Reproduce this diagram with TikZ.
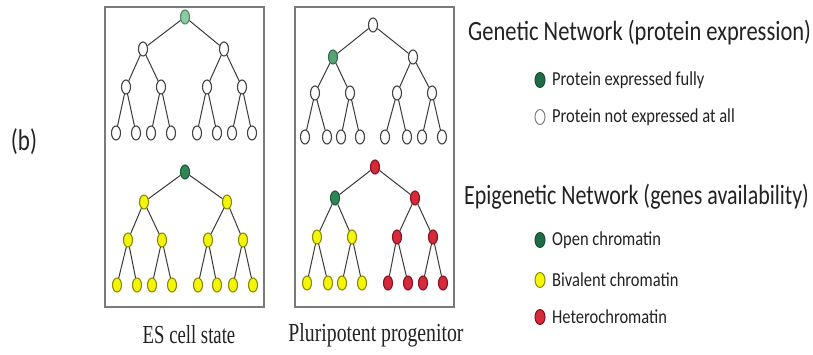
\documentclass[tikz,border=0pt]{standalone}
\usepackage{fontspec}
\setmainfont{Carlito}
\newfontfamily\labserif{Liberation Serif}
\usetikzlibrary{shapes.geometric}
\definecolor{edgec}{HTML}{3A3A3A}
\definecolor{framec}{HTML}{7A7A7A}
\definecolor{txt}{HTML}{222222}
\definecolor{fw}{HTML}{FFFFFF}\definecolor{dw}{HTML}{404040}
\definecolor{fgl}{HTML}{8CC9A4}\definecolor{dgl}{HTML}{4A8A64}
\definecolor{fgm}{HTML}{5AA276}\definecolor{dgm}{HTML}{2F6E4A}
\definecolor{fg}{HTML}{2E8555}\definecolor{dg}{HTML}{1D5A38}
\definecolor{fy}{HTML}{F5F50A}\definecolor{dy}{HTML}{8A8A00}
\definecolor{fr}{HTML}{D42A3A}\definecolor{dr}{HTML}{8A1020}
\definecolor{fG}{HTML}{1E6B45}\definecolor{dG}{HTML}{16502F}
\begin{document}
\begin{tikzpicture}[x=1pt,y=-1pt,
  nd/.style={ellipse, minimum width=9pt, minimum height=14pt, inner sep=0pt, line width=1.1pt},
  dot/.style={ellipse, minimum width=10pt, minimum height=15pt, inner sep=0pt, line width=1pt},
  edge/.style={draw=edgec, line width=1pt},
  frame/.style={draw=framec, line width=1.5pt},
  head/.style={anchor=west, inner sep=0pt, font=\fontsize{22.3}{22}\selectfont, text=txt},
  item/.style={anchor=west, inner sep=0pt, font=\fontsize{16.5}{16.5}\selectfont, text=txt},
  lab/.style={inner sep=0pt, font=\labserif\fontsize{26}{26}\selectfont, text=txt}]
\useasboundingbox[fill=white] (0,0) rectangle (813,355);

% frames
\node[frame, minimum width=159pt, minimum height=300pt, inner sep=0pt] (boxA) at (184.5,157) {};
\node[frame, minimum width=159pt, minimum height=300pt, inner sep=0pt] (boxB) at (374.5,157) {};

% tree A (top left)
\foreach \n/\x/\y/\c in {r/185/17/gl, a/143/49/w, b/224/49/w, c/126/87/w, d/161/87/w, e/207/87/w, f/242/87/w,
  1/116/133/w, 2/136/133/w, 3/151/133/w, 4/171/133/w, 5/197/133/w, 6/217/133/w, 7/232/133/w, 8/252/133/w}
  \node[nd, fill=f\c, draw=d\c] (A\n) at (\x,\y) {};
% tree B (bottom left)
\foreach \n/\x/\y/\c in {r/185/172/g, a/144/202/y, b/227/202/y, c/128/240/y, d/162/240/y, e/208/240/y, f/243/240/y,
  1/117/285/y, 2/137/285/y, 3/152/285/y, 4/172/285/y, 5/198/285/y, 6/217/285/y, 7/233/285/y, 8/253/285/y}
  \node[nd, fill=f\c, draw=d\c] (B\n) at (\x,\y) {};
% tree C (top right)
\foreach \n/\x/\y/\c in {r/373/25/w, a/333/57/gm, b/413/57/w, c/315/93/w, d/350/93/w, e/397/93/w, f/432/93/w,
  1/305/137/w, 2/327/137/w, 3/341/137/w, 4/360/137/w, 5/385/137/w, 6/407/137/w, 7/422/137/w, 8/442/137/w}
  \node[nd, fill=f\c, draw=d\c] (C\n) at (\x,\y) {};
% tree D (bottom right)
\foreach \n/\x/\y/\c in {r/375/167/r, a/335/198/g, b/415/198/r, c/317/237/y, d/352/237/y, e/397/237/r, f/433/237/r,
  1/307/283/y, 2/328/283/y, 3/342/283/y, 4/362/283/y, 5/388/283/r, 6/408/283/r, 7/423/283/r, 8/443/283/r}
  \node[nd, fill=f\c, draw=d\c] (D\n) at (\x,\y) {};

% edges
\foreach \t in {A,B,C,D}
  \foreach \p/\q in {r/a, r/b, a/c, a/d, b/e, b/f, c/1, c/2, d/3, d/4, e/5, e/6, f/7, f/8}
    \draw[edge] (\t\p) -- (\t\q);

% labels
\node[lab] (labA) at (189,335) {\scalebox{0.72}[1]{ES cell state}};
\node[lab] (labB) at (376,335) {\scalebox{0.76}[1]{Pluripotent progenitor}};
\node[inner sep=0pt, font=\fontsize{23}{23}\selectfont, text=txt] (b) at (24,142) {\scalebox{1}[1.3]{(b)}};

% legend
\node[head] (h1) at (468,33) {\scalebox{1.01}[1.25]{Genetic Network (protein expression)}};
\node[dot, fill=fG, draw=dG] (d1) at (540,80) {};
\node[item] (t1) at (552,80) {\scalebox{1}[1.2]{Protein expressed fully}};
\node[dot, fill=white, draw=gray] (d2) at (540,117) {};
\node[item] (t2) at (552,117) {\scalebox{1}[1.2]{Protein not expressed at all}};
\node[head] (h2) at (464,197) {\scalebox{0.985}[1.25]{Epigenetic Network (genes availability)}};
\node[dot, fill=fG, draw=dG] (d3) at (540,240) {};
\node[item] (t3) at (552,240) {\scalebox{1}[1.2]{Open chromatin}};
\node[dot, fill=fy, draw=dy] (d4) at (540,280) {};
\node[item] (t4) at (552,280) {\scalebox{1}[1.2]{Bivalent chromatin}};
\node[dot, fill=fr, draw=dr] (d5) at (540,317) {};
\node[item] (t5) at (552,317) {\scalebox{1}[1.2]{Heterochromatin}};
\end{tikzpicture}
\end{document}
